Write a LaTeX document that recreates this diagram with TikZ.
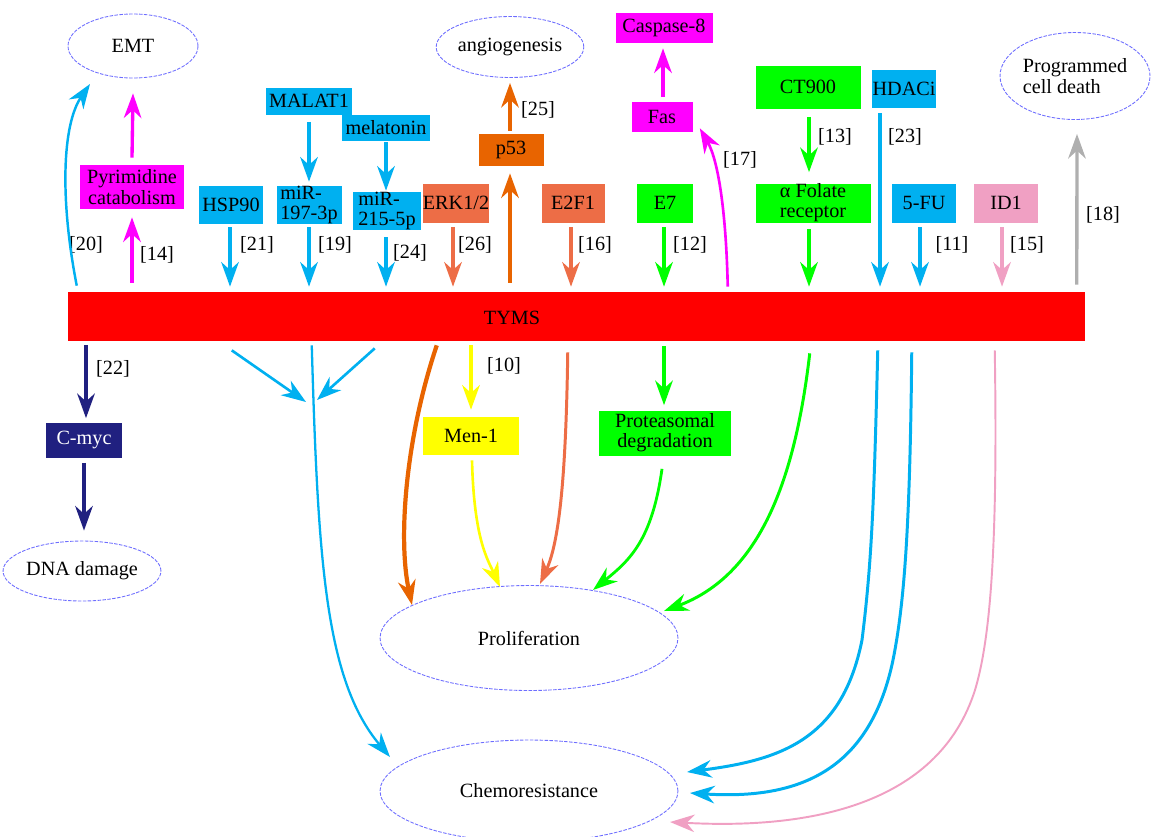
\documentclass[tikz,border=0pt]{standalone}
\usepackage{fontspec}
\setmainfont{Liberation Serif}
\usetikzlibrary{arrows.meta,calc,shapes.geometric}
\definecolor{cy}{RGB}{0,176,240}
\definecolor{mg}{RGB}{255,0,255}
\definecolor{cor}{RGB}{237,109,70}
\definecolor{org}{RGB}{232,100,0}
\definecolor{grn}{RGB}{0,255,0}
\definecolor{yel}{RGB}{255,255,0}
\definecolor{pk}{RGB}{240,160,195}
\definecolor{nv}{RGB}{32,32,128}
\definecolor{grc}{RGB}{175,175,175}
\definecolor{ellc}{RGB}{110,110,255}
\newcommand\dfont{\fontsize{11.5}{11.5}\selectfont}
\begin{document}
\begin{tikzpicture}[x=0.02cm,y=-0.02cm,
  box/.style={rectangle,inner sep=0pt,align=center,font=\dfont},
  ell/.style={ellipse,draw=ellc,dash pattern=on 2pt off 0.8pt,line width=0.5pt,inner sep=0pt,align=center,font=\dfont},
  arr/.style={line width=1.9pt,-{Stealth[length=14pt,width=10pt,inset=4.5pt]}},
  lab/.style={font=\dfont,inner sep=0pt}]
\clip (0,0) rectangle (1151,836);
% ellipses
\node[ell,minimum width=2.6cm,minimum height=1.28cm] (emt) at (133,46) {EMT};
\node[ell,minimum width=2.9cm,minimum height=1.22cm] (ang) at (510,47) {angiogenesis};
\node[ell,minimum width=3.0cm,minimum height=1.74cm,align=left] (pcd) at (1075,76) {Programmed\\cell death};
\node[ell,minimum width=2.8cm,minimum height=1.2cm] (dna) at (82,571) {DNA damage};
\node[ell,minimum width=5.96cm,minimum height=2.1cm] (pro) at (529,638) {Proliferation};
\node[ell,minimum width=5.96cm,minimum height=2.04cm] (che) at (529,791) {Chemoresistance};
% bar
\node[fill=red,inner sep=0pt,minimum width=20.34cm,minimum height=0.98cm] (bar) at (576.5,316.5) {};
\node[lab] (tyms) at (512,318) {TYMS};
% boxes
\node[box,fill=mg,minimum width=2.10cm,minimum height=0.88cm] (pyr) at (132,187) {Pyrimidine\\catabolism};
\node[box,fill=cy,minimum width=1.28cm,minimum height=0.76cm] (hsp) at (231,205) {HSP90};
\node[box,fill=cy,minimum width=1.74cm,minimum height=0.54cm] (mal) at (309,101) {MALAT1};
\node[box,fill=cy,minimum width=1.78cm,minimum height=0.52cm] (mel) at (386,128) {melatonin};
\node[box,fill=cy,minimum width=1.30cm,minimum height=0.76cm,align=left] (mia) at (309,205) {miR-\\197-3p};
\node[box,fill=cy,minimum width=1.36cm,minimum height=0.76cm,align=left] (mib) at (387,211) {miR-\\215-5p};
\node[box,fill=cor,minimum width=1.28cm,minimum height=0.78cm] (erk) at (456,203) {ERK1/2};
\node[box,fill=org,minimum width=1.30cm,minimum height=0.64cm] (p53) at (511,150) {p53};
\node[box,fill=cor,minimum width=1.26cm,minimum height=0.78cm] (e2f) at (573,203) {E2F1};
\node[box,fill=mg,minimum width=1.94cm,minimum height=0.60cm] (casp) at (664,28) {Caspase-8};
\node[box,fill=mg,minimum width=1.22cm,minimum height=0.60cm] (fas) at (662,117) {Fas};
\node[box,fill=grn,minimum width=1.12cm,minimum height=0.78cm] (e7) at (665,203) {E7};
\node[box,fill=grn,minimum width=2.10cm,minimum height=0.86cm] (ct) at (808,87) {CT900};
\node[box,fill=cy,minimum width=1.28cm,minimum height=0.76cm] (hdac) at (904,89) {HDACi};
\node[box,fill=grn,minimum width=2.30cm,minimum height=0.78cm] (af) at (813,203) {α Folate\\receptor};
\node[box,fill=cy,minimum width=1.28cm,minimum height=0.78cm] (fu) at (924,203) {5-FU};
\node[box,fill=pk,minimum width=1.28cm,minimum height=0.78cm] (id1) at (1006,203) {ID1};
\node[box,fill=nv,text=white,minimum width=1.52cm,minimum height=0.70cm] (cmyc) at (84,440) {C-myc};
\node[box,fill=yel,minimum width=1.92cm,minimum height=0.76cm] (men) at (471,436) {Men-1};
\node[box,fill=grn,minimum width=2.64cm,minimum height=0.90cm] (prot) at (665,433) {Proteasomal\\degradation};
% labels
\node[lab] at (86,245) {[20]};
\node[lab] at (157,255) {[14]};
\node[lab] at (257,245) {[21]};
\node[lab] at (335,245) {[19]};
\node[lab] at (410,253) {[24]};
\node[lab] at (475,245) {[26]};
\node[lab] at (538,110) {[25]};
\node[lab] at (595,245) {[16]};
\node[lab] at (690,245) {[12]};
\node[lab] at (740,160) {[17]};
\node[lab] at (835,137) {[13]};
\node[lab] at (905,137) {[23]};
\node[lab] at (952,245) {[11]};
\node[lab] at (1027,245) {[15]};
\node[lab] at (1103,215) {[18]};
\node[lab] at (113,369) {[22]};
\node[lab] at (504,366) {[10]};
% upper arrows
\draw[arr,cy,line width=1.4pt] ($(bar.north west)+(9,-6)$) .. controls (60,200) and (62,125) .. ($(emt.center)+(-43,38)$);
\draw[arr,mg] ($(pyr.south |- bar.north)+(0,-9)$) -- ($(pyr.south)+(0,8)$);
\draw[arr,mg] ($(pyr.north)+(0,-7)$) -- ($(emt.south)+(0,15)$);
\draw[arr,cy] ($(hsp.south)+(-1,3)$) -- ($(hsp.south |- bar.north)+(-1,-5)$);
\draw[arr,cy] ($(mal.south)+(0,7)$) -- ($(mia.north)+(0,-4)$);
\draw[arr,cy] ($(mia.south)+(0,3)$) -- ($(mia.south |- bar.north)+(0,-5)$);
\draw[arr,cy] ($(mel.south)+(0,1)$) -- ($(mib.north)+(-1,-1)$);
\draw[arr,cy] ($(mib.south)+(-1,7)$) -- ($(mib.south |- bar.north)+(-1,-5)$);
\draw[arr,cor] ($(erk.south)+(-3,4)$) -- ($(erk.south |- bar.north)+(-3,-5)$);
\draw[arr,org] ($(p53.south |- bar.north)+(-1,-9)$) -- ($(p53.south)+(-1,7)$);
\draw[arr,org] ($(p53.north)+(-1,-3)$) -- ($(ang.south)+(0,5)$);
\draw[arr,cor] ($(e2f.south)+(-2,4)$) -- ($(e2f.south |- bar.north)+(-2,-5)$);
\draw[arr,grn] ($(e7.south)+(-1,4)$) -- ($(e7.south |- bar.north)+(-1,-5)$);
\draw[arr,mg] ($(fas.north)+(1,-5)$) -- ($(casp.south)+(-1,5)$);
\draw[arr,mg,line width=1.5pt] ($(bar.north west)+(660,-5)$) .. controls (726,210) and (718,160) .. ($(fas.south east)+(7,-4)$);
\draw[arr,grn] ($(ct.south)+(1,8)$) -- ($(af.north)+(-4,-11)$);
\draw[arr,grn] ($(af.south)+(-4,6)$) -- ($(af.south |- bar.north)+(-4,-5)$);
\draw[arr,cy] ($(hdac.south)+(-24,5)$) -- ($(hdac.south |- bar.north)+(-24,-5)$);
\draw[arr,cy] ($(fu.south)+(-4,4)$) -- ($(fu.south |- bar.north)+(-4,-5)$);
\draw[arr,pk] ($(id1.south)+(-4,4)$) -- ($(id1.south |- bar.north)+(-4,-5)$);
\draw[arr,grc] ($(bar.north west)+(1009,-7)$) -- ($(pcd.south)+(2,14)$);
% lower arrows
\draw[arr,nv] ($(cmyc.north |- bar.south)+(2,4)$) -- ($(cmyc.north)+(2,-4)$);
\draw[arr,nv] ($(cmyc.south)+(0,5)$) -- ($(dna.north)+(2,-10)$);
\draw[arr,yel] ($(men.north |- bar.south)+(0,4)$) -- ($(men.north)+(0,-7)$);
\draw[arr,grn] ($(prot.north |- bar.south)+(-1,5)$) -- ($(prot.north)+(-1,-5)$);
\coordinate (mrg) at (312,400);
\draw[arr,cy,line width=1.5pt] ($(bar.south west)+(164,9)$) -- ($(mrg)+(-6,2)$);
\draw[arr,cy,line width=1.5pt] ($(bar.south west)+(307,7)$) -- ($(mrg)+(5,0)$);
\draw[arr,cy,line width=1.3pt] ($(bar.south west)+(244,4)$) .. controls (318,560) and (325,680) .. ($(che.center)+(-139,-34)$);
\draw[arr,org,line width=2.4pt] ($(bar.south west)+(369,4)$) .. controls (405,440) and (398,540) .. ($(pro.center)+(-117,-33)$);
\draw[arr,yel,line width=1.5pt] ($(men.south)+(1,5)$) .. controls (474,540) and (488,560) .. ($(pro.center)+(-29,-51)$);
\draw[arr,cor,line width=1.7pt] ($(bar.south west)+(500,11)$) .. controls (566,470) and (560,540) .. ($(pro.center)+(11,-54)$);
\draw[arr,grn,line width=1.6pt] ($(prot.south)+(-3,13)$) .. controls (652,540) and (630,560) .. ($(pro.center)+(64,-48)$);
\draw[arr,grn,line width=1.7pt] ($(bar.south west)+(742,12)$) .. controls (795,480) and (760,575) .. ($(pro.center)+(135,-27)$);
\draw[arr,cy,line width=1.7pt] ($(bar.south west)+(810,9)$) .. controls (874,500) and (872,560) .. (862,640) .. controls (842,740) and (780,760) .. ($(che.center)+(158,-19)$);
\draw[arr,cy,line width=1.7pt] ($(bar.south west)+(844,11)$) .. controls (910,520) and (905,600) .. (893,660) .. controls (870,770) and (800,800) .. ($(che.center)+(161,2)$);
\draw[arr,pk,line width=1.1pt] ($(bar.south west)+(927,9)$) .. controls (998,550) and (990,640) .. (975,690) .. controls (940,800) and (820,830) .. ($(che.center)+(141,31)$);
\end{tikzpicture}
\end{document}
